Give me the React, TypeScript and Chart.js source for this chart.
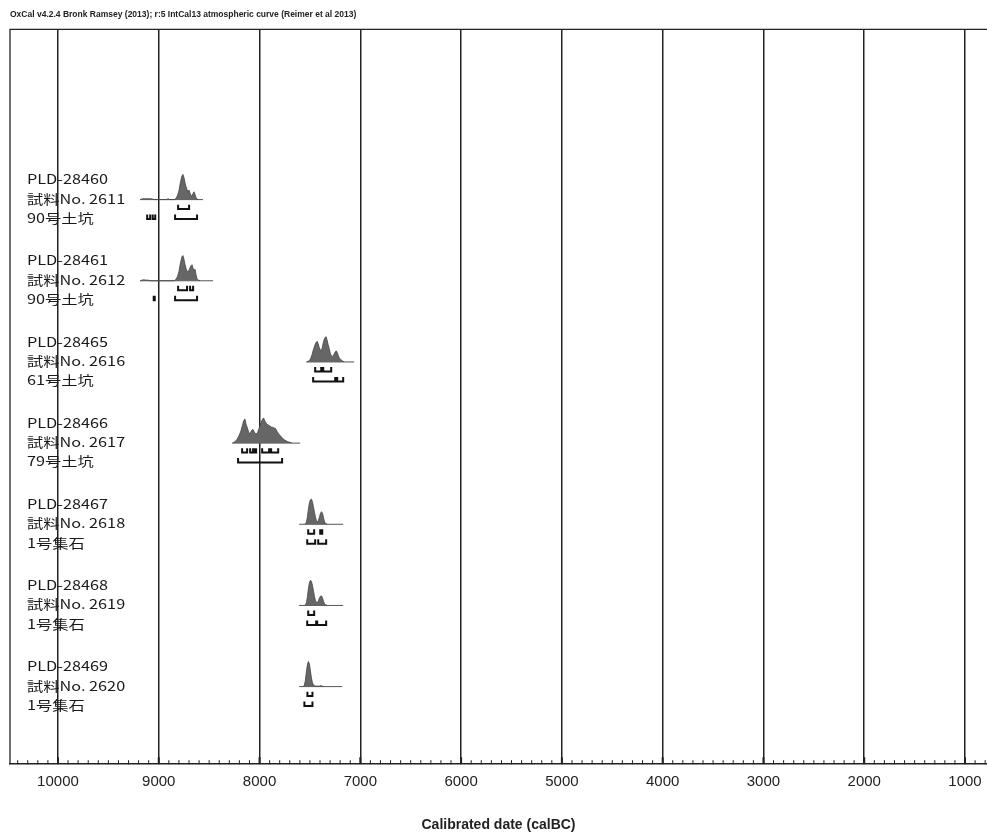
import { useEffect, useRef } from 'react';
import { Chart, registerables } from 'chart.js';

Chart.register(...registerables);

// sample labels (three lines per row)
const sampleCodes = ['PLD-28460', 'PLD-28461', 'PLD-28465', 'PLD-28466', 'PLD-28467', 'PLD-28468', 'PLD-28469'];
const sampleNumbers = ['試料No. 2611', '試料No. 2612', '試料No. 2616', '試料No. 2617', '試料No. 2618', '試料No. 2619', '試料No. 2620'];
const sampleFeatures = ['90号土坑', '90号土坑', '61号土坑', '79号土坑', '1号集石', '1号集石', '1号集石'];

// calibrated probability: [year calBC, relative density]
const prob2611 = [
  [9180, 0], [9165, 3], [9150, 4], [9135, 3], [9120, 4], [9105, 3], [9090, 4], [9075, 3], [9060, 2], [9045, 0],
  [8920, 0], [8908, 4], [8896, 0], [8845, 0], [8830, 5], [8815, 15], [8800, 35], [8790, 58], [8780, 78],
  [8770, 94], [8760, 100], [8750, 88], [8740, 68], [8730, 52], [8720, 40], [8710, 32], [8700, 38], [8690, 26],
  [8680, 16], [8670, 14], [8660, 24], [8650, 31], [8640, 20], [8630, 8], [8620, 2], [8610, 0],
];
const prob2612 = [
  [9180, 0], [9165, 3], [9150, 4], [9135, 3], [9120, 3], [9100, 2], [9085, 0], [8845, 0], [8830, 6], [8815, 16],
  [8800, 36], [8790, 60], [8780, 80], [8770, 95], [8760, 100], [8750, 86], [8740, 66], [8730, 50], [8720, 40],
  [8710, 35], [8700, 42], [8690, 52], [8680, 60], [8670, 64], [8660, 50], [8650, 42], [8640, 46], [8630, 24],
  [8620, 8], [8605, 2], [8590, 0],
];
const prob2616 = [
  [7530, 0], [7510, 4], [7495, 12], [7480, 28], [7465, 50], [7450, 68], [7438, 78], [7428, 82], [7418, 72],
  [7408, 58], [7398, 48], [7388, 44], [7378, 56], [7368, 76], [7358, 90], [7348, 98], [7339, 100], [7329, 86],
  [7319, 68], [7309, 54], [7299, 36], [7289, 26], [7279, 22], [7269, 26], [7259, 32], [7249, 40], [7239, 44],
  [7229, 38], [7219, 26], [7209, 16], [7195, 10], [7180, 5], [7160, 0],
];
const prob2617 = [
  [8265, 0], [8245, 5], [8225, 14], [8205, 28], [8185, 48], [8170, 70], [8158, 88], [8145, 96], [8132, 72],
  [8120, 60], [8105, 38], [8090, 42], [8075, 52], [8064, 54], [8052, 44], [8036, 35], [8020, 42], [8005, 58],
  [7990, 76], [7975, 92], [7960, 100], [7945, 86], [7930, 77], [7915, 72], [7900, 69], [7885, 64], [7870, 63],
  [7855, 60], [7840, 57], [7825, 46], [7810, 36], [7795, 30], [7775, 20], [7750, 12], [7725, 6], [7700, 3], [7680, 0],
];
const prob2618 = [
  [7550, 0], [7535, 8], [7525, 30], [7515, 62], [7505, 86], [7495, 97], [7485, 100], [7475, 90], [7465, 70],
  [7455, 48], [7445, 28], [7435, 14], [7425, 10], [7415, 16], [7405, 30], [7395, 44], [7385, 50], [7375, 44],
  [7365, 26], [7355, 10], [7345, 3], [7330, 0],
];
const prob2619 = [
  [7550, 0], [7535, 10], [7525, 35], [7515, 68], [7505, 90], [7495, 100], [7485, 96], [7475, 80], [7465, 58],
  [7455, 36], [7445, 20], [7435, 12], [7425, 12], [7415, 20], [7405, 30], [7395, 37], [7385, 38], [7375, 30],
  [7365, 16], [7355, 7], [7345, 3], [7330, 0],
];
const prob2620 = [
  [7565, 0], [7555, 6], [7545, 25], [7535, 60], [7525, 88], [7515, 100], [7505, 90], [7495, 62], [7485, 34],
  [7475, 16], [7465, 7], [7455, 3], [7440, 2], [7420, 2], [7405, 2], [7392, 4], [7380, 2], [7365, 0],
];

// extent of the plotted distribution (baseline)
const baselineSpans = [
  [9186, 8560], [9186, 8461], [7537, 7061], [8272, 7597], [7607, 7170], [7607, 7170], [7607, 7180],
];

// 68.2% and 95.4% ranges
const ranges68 = [
  [[8808, 8699]],
  [[8808, 8719], [8689, 8659]],
  [[7448, 7388], [7368, 7289]],
  [[8173, 8123], [8093, 8064], [8044, 8034], [7974, 7905], [7885, 7815]],
  [[7517, 7458], [7398, 7378]],
  [[7517, 7458]],
  [[7525, 7475]],
];
const ranges95 = [
  [[9115, 9085], [9060, 9035], [8838, 8620]],
  [[9050, 9040], [8838, 8620]],
  [[7468, 7249], [7229, 7170]],
  [[8213, 7776]],
  [[7527, 7448], [7418, 7339]],
  [[7527, 7438], [7428, 7339]],
  [[7555, 7475]],
];

// labelled (major) ticks and minor tick step
const tickLabels = [10000, 9000, 8000, 7000, 6000, 5000, 4000, 3000, 2000, 1000];
const MINOR_STEP = 100;
const X_MIN = 782;
const X_MAX = 10476;

const densities = [prob2611, prob2612, prob2616, prob2617, prob2618, prob2619, prob2620];

const PEAK = 0.31;
const TICK = 0.055;

const bracketData = (ranges: number[][], yLine: number) =>
  ranges.flatMap(([a, b]) => [
    { x: a, y: yLine - TICK },
    { x: a, y: yLine },
    { x: b, y: yLine },
    { x: b, y: yLine - TICK },
    { x: b, y: null },
  ]);

const labelFont = '13px "Noto Sans CJK JP", "Noto Sans", sans-serif';
const axisFamily = '"Liberation Sans", Arial, sans-serif';

const sampleLabels = {
  id: 'sampleLabels',
  beforeDatasetsDraw(chart: any) {
    const { ctx, chartArea, scales } = chart;
    ctx.save();
    ctx.fillStyle = '#1a1a1a';
    ctx.font = labelFont;
    ctx.textBaseline = 'middle';
    sampleCodes.forEach((code, row) => {
      const yMid = scales.y.getPixelForValue(row);
      [code, sampleNumbers[row], sampleFeatures[row]].forEach((t, i) => {
        ctx.save();
        ctx.translate(chartArea.left + 17, yMid - 1 + (i - 1) * 19.3);
        ctx.scale(1.25, 1);
        ctx.fillText(t, 0, 0);
        ctx.restore();
      });
    });
    ctx.restore();
  },
};

const frame = {
  id: 'frame',
  afterDraw(chart: any) {
    const { ctx, chartArea: a, scales } = chart;
    const x = scales.x;
    ctx.save();
    ctx.strokeStyle = '#222';
    ctx.lineWidth = 1.3;
    ctx.beginPath();
    ctx.moveTo(a.left, a.bottom);
    ctx.lineTo(a.left, a.top);
    ctx.lineTo(a.right, a.top);
    ctx.stroke();
    x.ticks.forEach((t: any) => {
      const px = x.getPixelForValue(t.value);
      const major = tickLabels.includes(t.value);
      ctx.lineWidth = major ? 2 : 1;
      ctx.beginPath();
      ctx.moveTo(px, a.bottom);
      ctx.lineTo(px, a.bottom - (major ? 7 : 4));
      ctx.stroke();
    });
    ctx.restore();
  },
};

export default function App() {
  const canvasRef = useRef(null as HTMLCanvasElement | null);
  const chartRef = useRef(null as any);

  useEffect(() => {
    document.body.style.margin = '0';
    document.body.style.overflow = 'hidden';
    if (!canvasRef.current) return;

    const datasets: any[] = [];
    densities.forEach((dens, row) => {
      const maxD = Math.max(...dens.map(p => p[1]));
      datasets.push({
        data: dens.map(([yr, d]) => ({ x: yr, y: row - (d / maxD) * PEAK })),
        borderColor: '#444',
        borderWidth: 0.8,
        backgroundColor: '#666',
        fill: { value: row },
      });
      datasets.push({
        data: baselineSpans[row].map(yr => ({ x: yr, y: row })),
        borderColor: '#555',
        borderWidth: 1,
        fill: false,
      });
      datasets.push({
        data: bracketData(ranges68[row], row + 0.117),
        borderColor: '#111',
        borderWidth: 2,
        fill: false,
      });
      datasets.push({
        data: bracketData(ranges95[row], row + 0.24),
        borderColor: '#111',
        borderWidth: 2,
        fill: false,
      });
    });

    chartRef.current = new Chart(canvasRef.current, {
      type: 'line',
      data: { datasets },
      options: {
        responsive: false,
        animation: false,
        events: [],
        spanGaps: false,
        elements: {
          point: { radius: 0 },
          line: { tension: 0, borderJoinStyle: 'miter', borderCapStyle: 'butt' },
        },
        layout: { padding: { left: 10, right: 0, top: 0, bottom: 0 } },
        plugins: {
          legend: { display: false },
          tooltip: { enabled: false },
          title: {
            display: true,
            text: 'OxCal v4.2.4 Bronk Ramsey (2013); r:5 IntCal13 atmospheric curve (Reimer et al 2013)',
            align: 'start',
            color: '#222',
            font: { family: axisFamily, size: 8.5, weight: 'bold' },
            padding: { top: 10, bottom: 9.2 },
          },
        },
        scales: {
          x: {
            type: 'linear',
            reverse: true,
            min: X_MIN,
            max: X_MAX,
            z: 1,
            afterBuildTicks: (scale: any) => {
              const ticks: any[] = [];
              for (let v = Math.ceil(X_MIN / MINOR_STEP) * MINOR_STEP; v <= X_MAX; v += MINOR_STEP) {
                ticks.push({ value: v });
              }
              scale.ticks = ticks;
            },
            border: { display: true, color: '#222', width: 1.5 },
            grid: {
              drawTicks: false,
              lineWidth: 1.5,
              color: (c: any) => (tickLabels.includes(c.tick?.value) ? '#222' : 'rgba(0,0,0,0)'),
            },
            ticks: {
              autoSkip: false,
              maxRotation: 0,
              minRotation: 0,
              padding: 9,
              color: '#222',
              font: { family: axisFamily, size: 15 },
              callback: (v: any) => (tickLabels.includes(v) ? String(v) : ''),
            },
            title: {
              display: true,
              text: 'Calibrated date (calBC)',
              color: '#222',
              font: { family: axisFamily, size: 14, weight: 'bold' },
              padding: { top: 17, bottom: 2 },
            },
          },
          y: {
            type: 'linear',
            display: false,
            reverse: true,
            min: -2.097,
            max: 6.956,
          },
        },
      },
      plugins: [sampleLabels, frame],
    } as any);

    return () => {
      if (chartRef.current) {
        chartRef.current.destroy();
        chartRef.current = null;
      }
    };
  }, []);

  return (
    <div style={{ width: 987, height: 836 }}>
      <canvas ref={canvasRef} width={987} height={836} style={{ display: 'block' }} />
    </div>
  );
}
